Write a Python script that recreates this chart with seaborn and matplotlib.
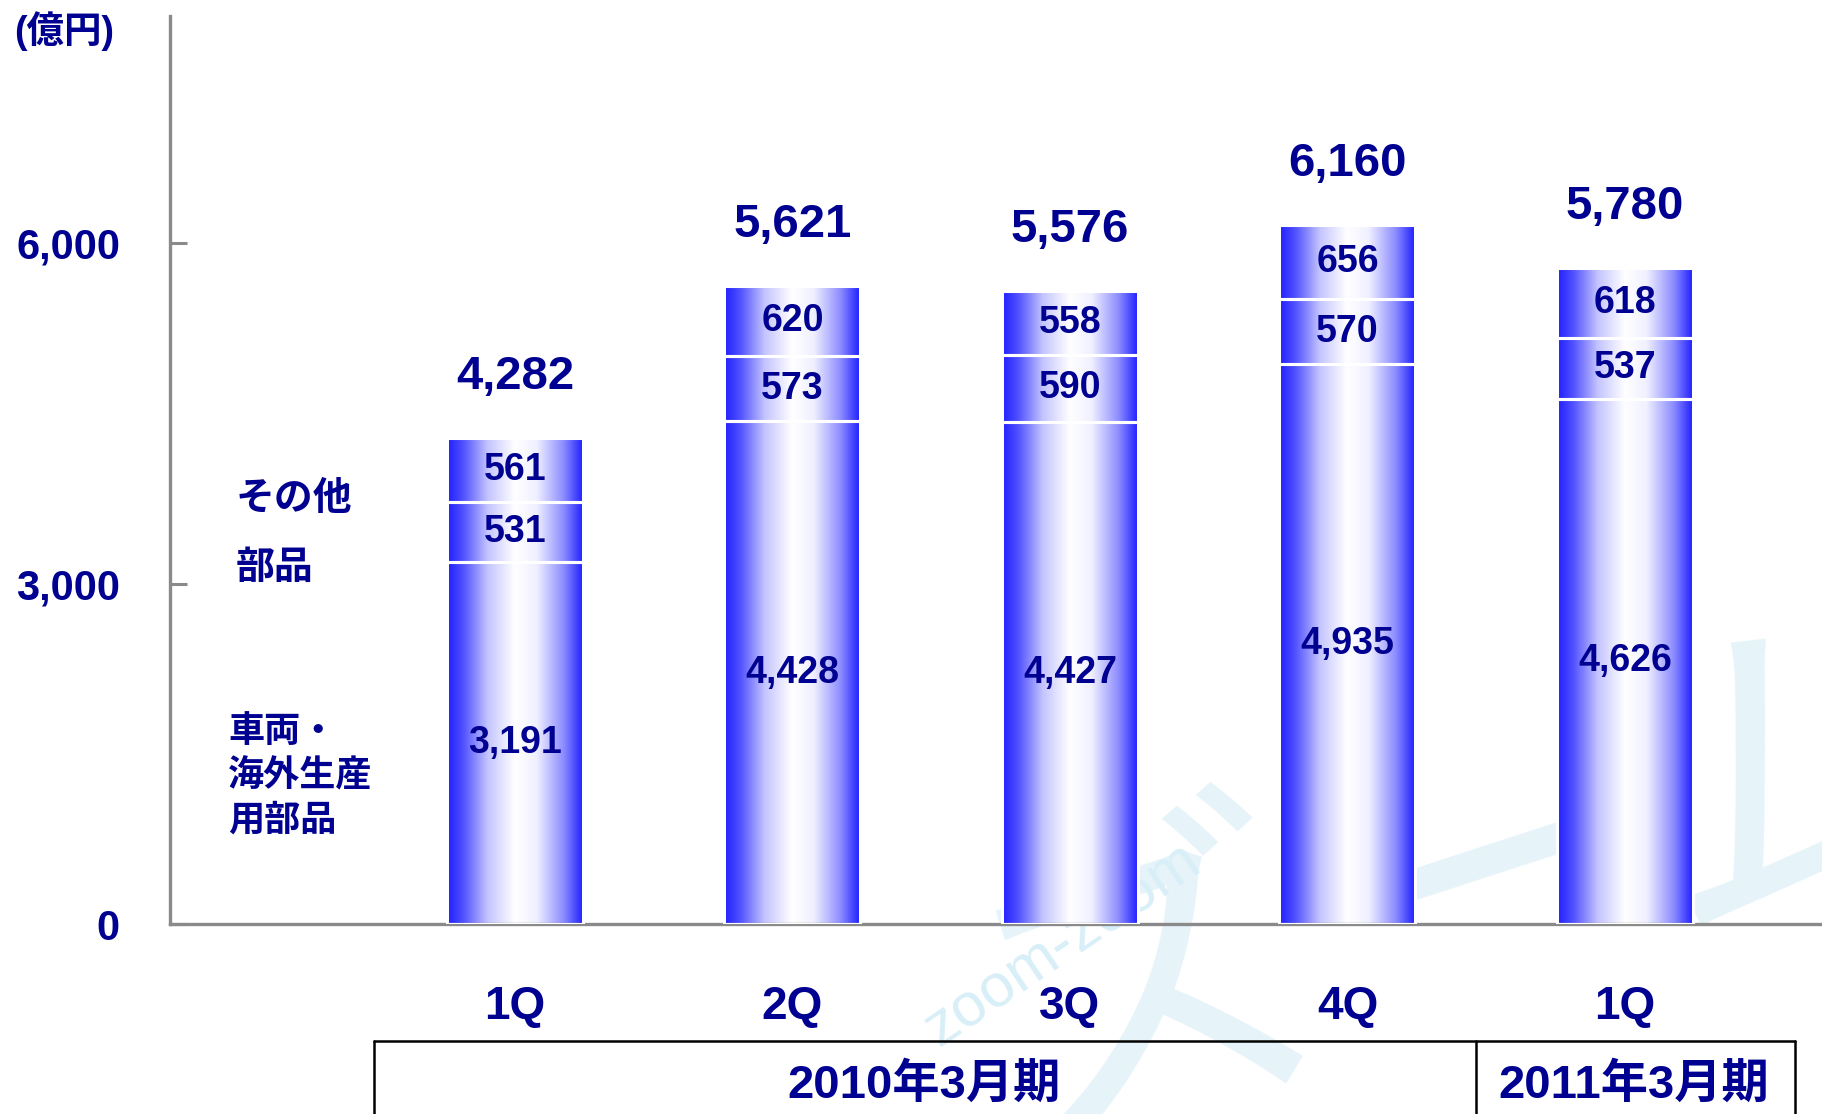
import matplotlib
matplotlib.use("Agg")
import matplotlib.pyplot as plt
from matplotlib.colors import LinearSegmentedColormap
from matplotlib.lines import Line2D
import seaborn as sns
import pandas as pd
import numpy as np

# data (億円)
quarters = ["1Q", "2Q", "3Q", "4Q", "1Q"]
vehicle_parts = [3191, 4428, 4427, 4935, 4626]   # 車両・海外生産用部品
parts = [531, 573, 590, 570, 537]                # 部品
other = [561, 620, 558, 656, 618]                # その他
totals = [4282, 5621, 5576, 6160, 5780]
periods = ["2010年3月期", "2011年3月期"]

sns.set_theme(style="white")
plt.rcParams['font.family'] = ['Liberation Sans', 'Noto Sans CJK JP']
plt.rcParams['font.weight'] = 'bold'
navy = '#000091'
grey = '#8a8a8a'

df = pd.DataFrame({"pos": range(len(quarters)), "vehicle": vehicle_parts,
                   "parts": parts, "other": other})

W, H = 1822, 1114
fig = plt.figure(figsize=(W / 100, H / 100), dpi=100)
ax = fig.add_axes([170 / W, 190 / H, 1652 / W, 908 / H])
ax.patch.set_alpha(0)

# watermark in the background
fig.text(1063 / W, 1 - 945 / H, "zoom-zoom", rotation=34, fontsize=44,
         fontweight='normal', color='#d9eff8', ha='center', va='center', zorder=-5)
fig.text(1480 / W, 1 - 900 / H, "ズーム", rotation=18, fontsize=250,
         fontweight='normal', color='#e6f4fa', ha='center', va='center', zorder=-6)

v = np.array(vehicle_parts)
p = np.array(parts)
bottoms = [np.zeros(len(v)), v, v + p]
for col, bot in zip(["vehicle", "parts", "other"], bottoms):
    sns.barplot(data=df, x="pos", y=col, bottom=bot, width=0.49, errorbar=None,
                color='white', facecolor="none", edgecolor="white", linewidth=2.2,
                ax=ax, zorder=3)

# horizontal gradient fill (blue - white - blue)
bar_cmap = LinearSegmentedColormap.from_list(
    "barfill", [(0.0, '#1e1eff'), (0.12, '#5252ff'), (0.3, '#c4c4ff'),
                (0.5, '#ffffff'), (0.66, '#f0f0ff'), (0.86, '#8c8cff'), (1.0, '#2020ff')])
grad = np.linspace(0, 1, 256).reshape(1, -1)
for patch in ax.patches:
    x0, y0 = patch.get_x(), patch.get_y()
    ax.imshow(grad, cmap=bar_cmap, extent=[x0, x0 + patch.get_width(), y0, y0 + patch.get_height()],
              aspect='auto', zorder=2, interpolation='bilinear')

for cont, vals in zip(ax.containers, [vehicle_parts, parts, other]):
    ax.bar_label(cont, labels=[f"{x:,}" for x in vals], label_type='center',
                 fontsize=27, color=navy, fontweight='bold', zorder=5)
ax.bar_label(ax.containers[-1], labels=[f"{x:,}" for x in totals], padding=28,
             fontsize=34, color=navy, fontweight='bold')

ax.set_xlim(-1.243, 4.71)
ax.set_ylim(0, 8000)
ax.set_xlabel("")
ax.set_ylabel("")
ax.set_xticks(range(len(quarters)))
ax.set_xticklabels(quarters, fontsize=33, color=navy, fontweight='bold')
ax.set_yticks([0, 3000, 6000])
ax.set_yticklabels(["0", "3,000", "6,000"], fontsize=30, color=navy, fontweight='bold')
ax.tick_params(axis='x', length=0, pad=44)
ax.tick_params(axis='y', direction='in', length=12, width=2.2, color=grey, pad=36, left=True)
for s in ["top", "right"]:
    ax.spines[s].set_visible(False)
for s in ["left", "bottom"]:
    ax.spines[s].set_color(grey)
    ax.spines[s].set_linewidth(2.4)

# series names on the left
ax.text(-1.005, 3740, "その他", fontsize=28, color=navy, va='center', ha='left')
ax.text(-1.005, 3130, "部品", fontsize=28, color=navy, va='center', ha='left')
for txt, yy in zip(["車両・", "海外生産", "用部品"], [1690, 1300, 905]):
    ax.text(-1.034, yy, txt, fontsize=26, color=navy, va='center', ha='left')

# unit
fig.text(14 / W, 1 - 31 / H, "(億円)", fontsize=27, color=navy, va='center', ha='left')

# period boxes under the axis
ytop = 1 - 1041 / H
fig.add_artist(Line2D([374 / W, 1795 / W], [ytop, ytop], color='black', lw=1.8))
for xx in [374, 1476, 1795]:
    fig.add_artist(Line2D([xx / W, xx / W], [ytop, 0], color='black', lw=1.8))
fig.text(924 / W, 1 - 1086 / H, periods[0], fontsize=34, color=navy, ha='center', va='center')
fig.text(1634 / W, 1 - 1086 / H, periods[1], fontsize=34, color=navy, ha='center', va='center')

fig.savefig("out.png", dpi=100)
